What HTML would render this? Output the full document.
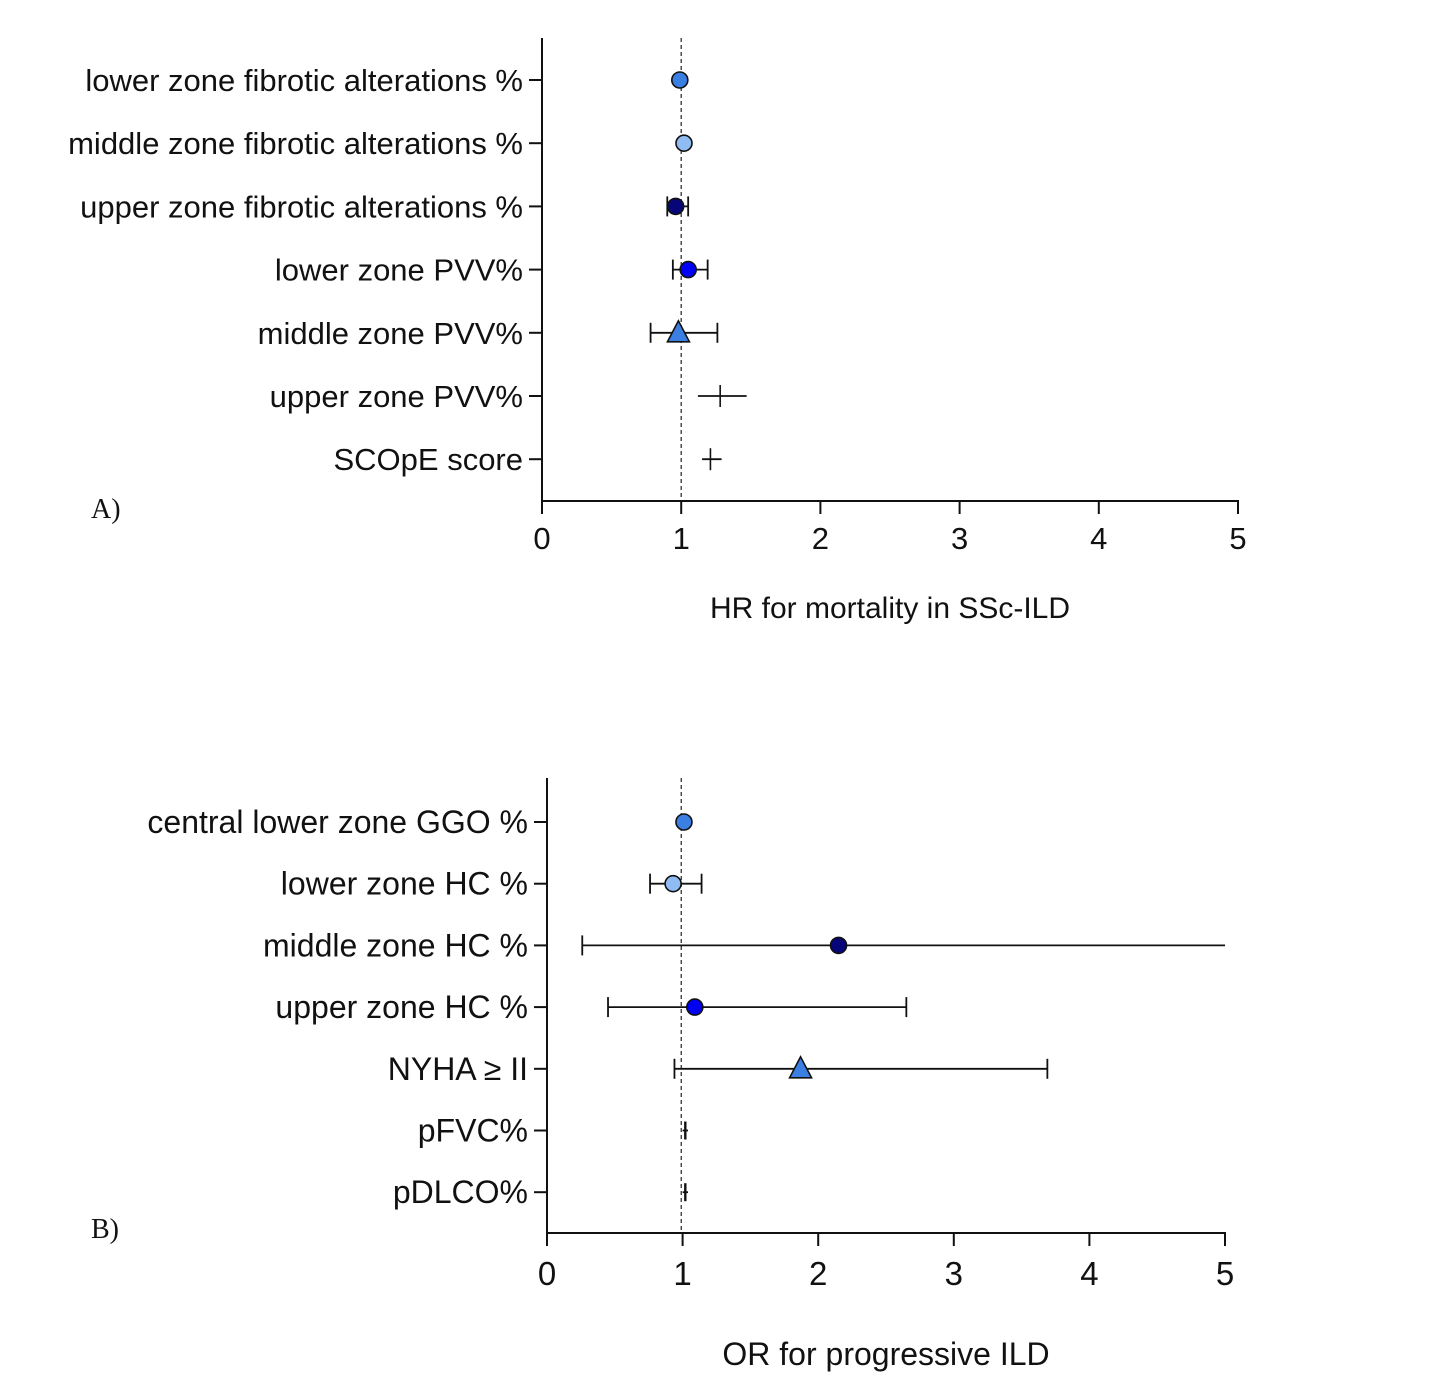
<!DOCTYPE html>
<html><head><meta charset="utf-8"><style>
body{margin:0;background:#fff;}
svg{display:block;}
.lbl{font-family:"Liberation Sans",sans-serif;fill:#111;}
.tick{font-family:"Liberation Sans",sans-serif;fill:#111;}
.ttl{font-family:"Liberation Sans",sans-serif;fill:#111;}
.pl{font-family:"Liberation Serif",serif;font-size:28px;fill:#111;}
</style></head><body>
<svg id="chart" width="1447" height="1393" viewBox="0 0 1447 1393" xmlns="http://www.w3.org/2000/svg"></svg>
<script>
const labelsA=["lower zone fibrotic alterations %","middle zone fibrotic alterations %","upper zone fibrotic alterations %","lower zone PVV%","middle zone PVV%","upper zone PVV%","SCOpE score"];
const estA=[0.99,1.02,0.96,1.05,0.98,1.28,1.21];
const loA=[null,null,0.90,0.94,0.78,1.12,1.15];
const hiA=[null,null,1.05,1.19,1.26,1.47,1.29];
const labelsB=["central lower zone GGO %","lower zone HC %","middle zone HC %","upper zone HC %","NYHA ≥ II","pFVC%","pDLCO%"];
const estB=[1.01,0.93,2.15,1.09,1.87,1.02,1.02];
const loB=[null,0.76,0.26,0.45,0.94,1.00,1.00];
const hiB=[null,1.14,5.0,2.65,3.69,1.04,1.04];
const markers=["circle","circle","circle","circle","triangle","cross","cross"];
const ticks=[0,1,2,3,4,5];
const fills=["#3b7fe3","#8fbcf3","#06067a","#0000f5","#3b7fe3",null,null];
const svg=document.getElementById('chart');
const NS="http://www.w3.org/2000/svg";
function mk(tag,attrs,parent){const e=document.createElementNS(NS,tag);for(const k in attrs)e.setAttribute(k,attrs[k]);(parent||svg).appendChild(e);return e;}
function panel(p){
  const g=mk('g',{});
  
  
  const X=v=>p.x0+(p.x1-p.x0)*v/5;
  const Y=i=>p.yr0+i*p.dy;
  const ref=mk('line',{x1:X(p.refv),x2:X(p.refv),y1:p.ytop,y2:p.yax,stroke:'#333','stroke-width':1.3,'stroke-dasharray':'4,3'},g);
  
  
  const ya=mk('line',{x1:p.x0,x2:p.x0,y1:p.ytop,y2:p.yax,stroke:'#111','stroke-width':2},g);
  
  
  const xa=mk('line',{x1:p.x0-1,x2:p.x1+1,y1:p.yax,y2:p.yax,stroke:'#111','stroke-width':2},g);
  
  
  ticks.forEach(t=>{
    mk('line',{x1:X(t),x2:X(t),y1:p.yax,y2:p.yax+13,stroke:'#111','stroke-width':2},g);
    const tl=mk('text',{x:X(t),y:p.yax+p.tickdy,'text-anchor':'middle',class:'tick','font-size':p.tickfs},g);
    tl.textContent=t;
    
    
  });
  p.labels.forEach((l,i)=>{
    const y=Y(i);
    mk('line',{x1:p.x0-13,x2:p.x0,y1:y,y2:y,stroke:'#111','stroke-width':2},g);
    const t=mk('text',{x:p.x0-19,y:y+11,'text-anchor':'end',class:'lbl','font-size':p.lblfs},g);
    t.textContent=l;
    
    
    const lo=p.lo[i],hi=p.hi[i],e=p.est[i];
    const m=markers[i];
    if(lo!==null){
      const ci=mk('line',{x1:X(lo),x2:X(hi),y1:y,y2:y,stroke:'#111','stroke-width':1.8},g);
      
      
      if(m!=='cross'){
        mk('line',{x1:X(lo),x2:X(lo),y1:y-10,y2:y+10,stroke:'#111','stroke-width':1.8},g);
        if(hi<5) mk('line',{x1:X(hi),x2:X(hi),y1:y-10,y2:y+10,stroke:'#111','stroke-width':1.8},g);
      }
    }
    let mark;
    if(m==='circle'){mark=mk('circle',{cx:X(e),cy:y,r:8,fill:fills[i],stroke:'#111','stroke-width':1.6},g);}
    else if(m==='triangle'){const cx=X(e);mark=mk('polygon',{points:`${cx},${y-12} ${cx-11},${y+9} ${cx+11},${y+9}`,fill:fills[i],stroke:'#111','stroke-width':1.6},g);}
    else {mark=mk('line',{x1:X(e),x2:X(e),y1:y-p.crossh,y2:y+p.crossh,stroke:'#111','stroke-width':p.crossw},g);}
    
    
  });
  const tt=mk('text',{x:p.ttlx,y:p.ttly,'text-anchor':'middle',class:'ttl','font-size':p.ttlfs},g);
  tt.textContent=p.title;
  
  
  const pl=mk('text',{x:91,y:p.ply,class:'pl'},g);
  pl.textContent=p.panel;
  
  
}
panel({name:'panel-a',x0:542,x1:1238,ytop:38,yax:501,yr0:80,dy:63.2,refv:1,labels:labelsA,est:estA,lo:loA,hi:hiA,title:'HR for mortality in SSc-ILD',ttlx:890,ttly:618,panel:'A)',ply:518,lblfs:31,tickfs:31,tickdy:48,ttlfs:30,crossh:11,crossw:1.6});
panel({name:'panel-b',x0:547,x1:1225,ytop:778,yax:1233,yr0:822,dy:61.7,refv:0.99,labels:labelsB,est:estB,lo:loB,hi:hiB,title:'OR for progressive ILD',ttlx:886,ttly:1365,panel:'B)',ply:1238,lblfs:32,tickfs:33,tickdy:52,ttlfs:32,crossh:9,crossw:2.4});
</script>
</body></html>
